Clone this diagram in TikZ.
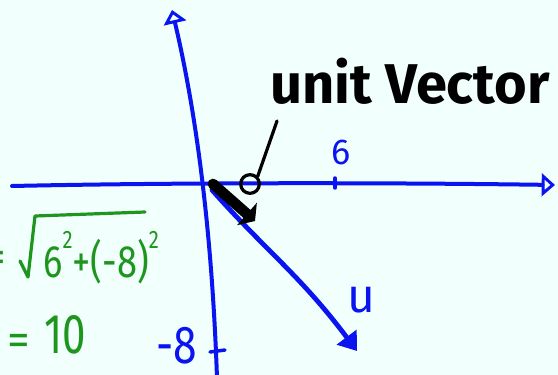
\documentclass[tikz,border=0pt]{standalone}
\usepackage{fontspec}
\setmainfont{Fira Sans}
\usetikzlibrary{arrows.meta}
\definecolor{bg}{HTML}{F1FFFD}
\definecolor{pen}{HTML}{0A14F0}
\definecolor{grn}{HTML}{1E961E}
\tikzset{
  axis/.style={draw=pen, line width=3pt, line cap=round},
  opentip/.style={-{Triangle[open,length=10pt,width=17pt,line width=2.2pt]}},
  vecu/.style={draw=pen, line width=3.6pt, line cap=round, -{Triangle[length=13pt,width=18pt]}},
  unitvec/.style={draw=black, line width=8pt, line cap=round, -{Triangle[length=8pt,width=22pt]}},
  bluelabel/.style={text=pen, inner sep=0pt},
  greenlabel/.style={text=grn, inner sep=0pt},
  tick/.style={draw=pen, line width=2.6pt, line cap=round},
  eqline/.style={draw=grn, line width=2.4pt, line cap=round, line join=round}
}
\newcommand{\supii}{\raisebox{0.62em}{\fontsize{19}{19}\selectfont 2}}
\begin{document}
\begin{tikzpicture}[x=0.75pt,y=-0.75pt]
\fill[bg] (0,0) rectangle (558,375);
\useasboundingbox (0,0) rectangle (558,375);

% coordinates
\coordinate (O) at (207,184);
\coordinate (xs) at (12,186);
\coordinate (xe) at (555,185);
\coordinate (yb) at (217,378);
\coordinate (yt) at (172,10);
\coordinate (Utip) at (357,351);
\coordinate (Ustart) at (212,190);
\coordinate (Vs) at (213,184);
\coordinate (Ve) at (255,221);
\coordinate (t6a) at (335,178);
\coordinate (t6b) at (335,188);
\coordinate (t8a) at (210,352);
\coordinate (t8b) at (225,350);
\coordinate (lead) at (277,121);

% axes
\draw[axis, opentip] (xs) .. controls (200,182) and (420,183) .. (xe);
\draw[axis, opentip] (yb) .. controls (214,290) and (205,150) .. (yt);

% ticks
\draw[tick] (t6a) -- (t6b);
\draw[tick] (t8a) -- (t8b);

% vector u
\draw[vecu] (Ustart) .. controls (265,250) and (300,275) .. (Utip);

% unit vector
\draw[unitvec] (Vs) -- (Ve);

% pointer circle and leader
\node[draw=black, line width=2.4pt, circle, minimum size=14pt, inner sep=0pt] (ring) at (250,184) {};
\draw[black, line width=2.4pt, line cap=round] (ring.north east) -- (lead);

% labels
\node[bluelabel, font=\fontsize{27}{27}\selectfont] (l6) at (341,152) {6};
\node[bluelabel, font=\fontsize{40}{40}\selectfont, xscale=0.8] (l8) at (177,346) {-8};
\node[bluelabel, font=\fontsize{36}{36}\selectfont] (lu) at (361,300) {u};
\node[inner sep=0pt, anchor=base, font=\fontsize{42}{42}\selectfont\bfseries] (title) at (410,103) {unit Vector};

% green working
\node[greenlabel, anchor=east, font=\fontsize{34}{34}\selectfont] (eq1) at (6,262) {=};
\draw[eqline] (20,261) -- (28,277) -- (35,216) -- (145,212);
\node[greenlabel, anchor=base west, xscale=0.8, font=\fontsize{34}{34}\selectfont] (rad) at (43,277) {6\supii+(-8)\supii};
\node[greenlabel, font=\fontsize{34}{34}\selectfont] (eq2) at (19,345) {=};
\node[greenlabel, anchor=base west, xscale=0.75, font=\fontsize{42}{42}\selectfont] (ten) at (44,353) {10};
\end{tikzpicture}
\end{document}
